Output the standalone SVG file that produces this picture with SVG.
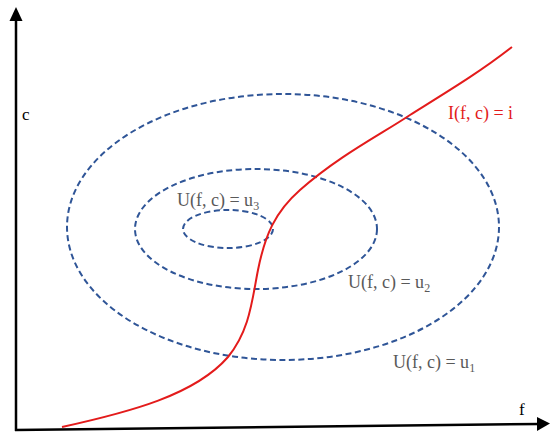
<svg xmlns="http://www.w3.org/2000/svg" width="550" height="432" viewBox="0 0 550 432">
<style>
.axis{stroke:#000;stroke-width:2.5;fill:none}
.ell{fill:none;stroke:#2F5597;stroke-width:2;stroke-dasharray:6 3.5}
.lbl{font-family:"Liberation Serif","DejaVu Serif",serif;font-size:18px;fill:#595959}
.ax{font-family:"Liberation Serif","DejaVu Serif",serif;font-size:17px;fill:#000}
.sub{font-size:12px}
</style>
<rect width="550" height="432" fill="#fff"/>
<g id="axes">
<line class="axis" x1="16" y1="431" x2="16" y2="20"/>
<polygon points="16,7 9.5,21 22.5,21" fill="#000"/>
<line class="axis" x1="15" y1="430" x2="540" y2="424"/>
<polygon points="550,423.5 537,417 537,431" fill="#000"/>
<text class="ax" x="22" y="120">c</text>
<text class="ax" x="519" y="415">f</text>
</g>
<g id="u1">
<ellipse class="ell" cx="283" cy="227" rx="216" ry="133"/>
<text class="lbl" x="393" y="368">U(f, c) = u<tspan class="sub" dy="4">1</tspan></text>
</g>
<g id="u2">
<ellipse class="ell" cx="256" cy="229" rx="121" ry="60"/>
<text class="lbl" x="348" y="288">U(f, c) = u<tspan class="sub" dy="4">2</tspan></text>
</g>
<g id="u3">
<ellipse class="ell" cx="228" cy="229" rx="45" ry="19"/>
<text class="lbl" x="177" y="206">U(f, c) = u<tspan class="sub" dy="4">3</tspan></text>
</g>
<g id="connectors">
<path d="M62,427 C130,412 195,395 228,357 C250,330 252,300 258,270 C265,235 275,212 300,190 C340,155 380,135 410,115 C450,90 480,72 512,47" fill="none" stroke="#E31B1B" stroke-width="2"/>
</g>
<g id="i">
<text class="lbl" x="448" y="119" style="fill:#E31B1B">I(f, c) = i</text>
</g>
</svg>
